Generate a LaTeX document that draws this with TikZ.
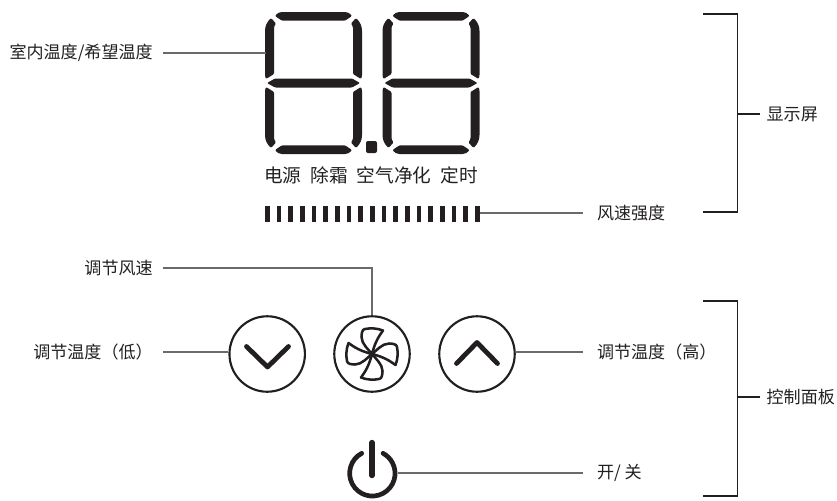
\documentclass[tikz,border=0pt]{standalone}
\usepackage{fontspec}
\setmainfont{Noto Sans CJK SC}
\usetikzlibrary{positioning}
\definecolor{ink}{HTML}{231F20}
\definecolor{leader}{HTML}{6A6A6A}
\tikzset{
  lbl/.style={inner ysep=0pt,inner xsep=7.5pt,text=ink,font=\fontsize{12.8}{15}\selectfont},
  rlbl/.style={lbl,anchor=west,inner xsep=10.3pt},
  grouplbl/.style={lbl,anchor=west,inner xsep=4.8pt},
  leaderline/.style={draw=leader,line width=0.8pt},
  bracket/.style={draw=ink,line width=1pt},
  seg/.style={fill=ink,rounded corners=0.8pt},
  roundbtn/.style={circle,draw=ink,line width=1.6pt,minimum size=56.6pt,inner sep=0pt},
  chevron/.style={draw=ink,line width=3.6pt,line cap=round,line join=round},
  blade/.style={draw=ink,line width=1.9pt,line join=round},
  bar/.style={fill=ink,minimum width=3.4pt,minimum height=12pt,inner sep=0pt}
}
\begin{document}
\begin{tikzpicture}[x=0.75pt,y=-0.75pt]
\useasboundingbox (0,0) rectangle (837,500);
\def\digit#1#2{
  % top, middle and bottom bars, then the four uprights
  \begin{scope}[shift={(#1,#2)}]
    \fill[seg] (10,4) .. controls (12,1.5) and (14,0) .. (18,0) -- (79,0) .. controls (83,0) and (85,1.5) .. (87,4) -- (80,8.7) -- (17,8.7) -- cycle;
    \fill[seg] (2,71) -- (10,66.5) -- (87,66.5) -- (95,71) -- (87,75.5) -- (10,75.5) -- cycle;
    \fill[seg] (10,138) .. controls (12,140.5) and (14,142) .. (18,142) -- (79,142) .. controls (83,142) and (85,140.5) .. (87,138) -- (80,133.3) -- (17,133.3) -- cycle;
    \fill[seg] (6,6) .. controls (2,10) and (0,14) .. (0,20) -- (0,64) -- (1,67) -- (9,62) -- (9,15) -- (11,11.5) -- cycle;
    \fill[seg] (91,6) .. controls (95,10) and (97,14) .. (97,20) -- (97,64) -- (96,67) -- (88,62) -- (88,15) -- (86,11.5) -- cycle;
    \fill[seg] (6,136) .. controls (2,132) and (0,128) .. (0,122) -- (0,78) -- (1,75) -- (9,80) -- (9,127) -- (11,130.5) -- cycle;
    \fill[seg] (91,136) .. controls (95,132) and (97,128) .. (97,122) -- (97,78) -- (96,75) -- (88,80) -- (88,127) -- (86,130.5) -- cycle;
  \end{scope}
}

% display
\digit{265}{12}
\digit{382.5}{12}
\fill[ink,rounded corners=1.5pt] (366,141) rectangle (377,153);
\coordinate (seg) at (265.5,53);
\node[lbl,inner xsep=0pt,font=\fontsize{14}{16}\selectfont] at (371,175) (status) {电源\hspace{0.48em}除霜\hspace{0.48em}空气净化\hspace{0.48em}定时};
\foreach \i in {0,...,18} {
  \node[bar] at (267.3+\i*11.67,214) (bar\i) {};
}

% buttons
\node[roundbtn] at (267.2,354) (down) {};
\node[roundbtn] at (372,354) (fan) {};
\node[roundbtn] at (477,354) (up) {};
\draw[chevron] (246.5,346.5) -- (267.5,367) -- (288.5,346.5);
\draw[chevron] (456.5,363.5) -- (477,342.5) -- (497.5,363.5);
\foreach \a in {0,90,180,270} {
  \draw[blade,shift={(372,354)},rotate=\a] (0,0) .. controls (-3,-4) and (-10.5,-10) .. (-10.5,-17) .. controls (-10.5,-20) and (-10,-25) .. (-7,-25) .. controls (-2,-26) and (5,-26) .. (11,-23.5) .. controls (7,-18) and (3,-12) .. (0,0);
}

% power
\draw[draw=ink,line width=3.5pt,line cap=round] (361.7,453.3) arc (-118:-422:22.7);
\draw[draw=ink,line width=4pt,line cap=round] (372,442.5) -- (372,475.5);
\coordinate (powr) at (398,473);

% labels on the left
\node[lbl,anchor=east] at (163,53) (room) {室内温度/希望温度};
\node[lbl,anchor=east] at (163,268) (fanspeed) {调节风速};
\node[lbl,anchor=east] at (163,352) (low) {调节温度（低）};
% labels on the right
\node[rlbl] at (583,213) (wind) {风速强度};
\node[rlbl] at (583,352) (high) {调节温度（高）};
\node[rlbl] at (583,473) (onoff) {开/ 关};
\node[grouplbl] at (760,114) (screen) {显示屏};
\node[grouplbl] at (760,397) (panel) {控制面板};

% leaders
\draw[leaderline] (room.east) -- (seg);
\draw[leaderline] (bar18.east |- wind) -- (wind.west);
\draw[leaderline] (fanspeed.east) -| (fan.north);
\draw[leaderline] (low.east) -- (down.west |- low);
\draw[leaderline] (up.east |- high) -- (high.west);
\draw[leaderline] (powr) -- (onoff.west);

% brackets
\coordinate (s1) at (703,14);
\coordinate (s2) at (737.5,14);
\coordinate (s3) at (737.5,212);
\coordinate (s4) at (703,212);
\draw[bracket] (s1) -- (s2) -- (s3) -- (s4);
\draw[bracket] (s2 |- screen) -- (screen.west);
\coordinate (p1) at (703,301);
\coordinate (p2) at (737.5,301);
\coordinate (p3) at (737.5,496);
\coordinate (p4) at (703,496);
\draw[bracket] (p1) -- (p2) -- (p3) -- (p4);
\draw[bracket] (p2 |- panel) -- (panel.west);
\end{tikzpicture}
\end{document}
